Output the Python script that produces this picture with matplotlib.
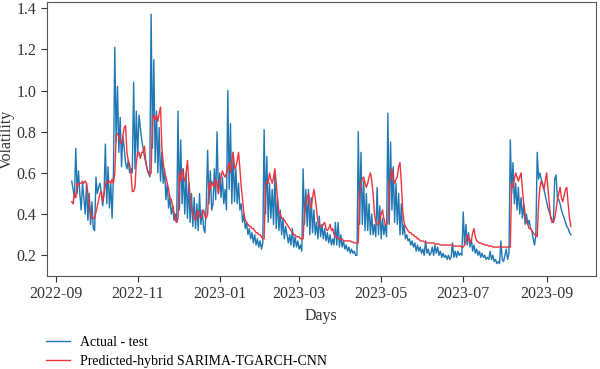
import numpy as np
import pandas as pd
import matplotlib
matplotlib.use("Agg")
import matplotlib.pyplot as plt
import matplotlib.dates as mdates

plt.rcParams['font.family'] = ['Liberation Serif', 'DejaVu Serif']

# daily test period
start_date = "2022-09-13"
end_date = "2023-09-19"

actual = [
    0.56, 0.52, 0.48, 0.72, 0.50, 0.61, 0.50, 0.42, 0.55, 0.48,
    0.40, 0.55, 0.37, 0.50, 0.35, 0.46, 0.33, 0.32, 0.58, 0.50,
    0.53, 0.55, 0.50, 0.44, 0.50, 0.74, 0.45, 0.63, 0.43, 0.55,
    0.38, 0.60, 1.21, 0.75, 1.02, 0.70, 0.87, 0.63, 0.78, 0.72,
    0.65, 0.62, 0.66, 0.60, 0.62, 0.60, 1.04, 0.62, 0.90, 0.68,
    0.88, 0.82, 0.76, 0.72, 0.68, 0.65, 0.62, 0.60, 0.58, 1.37,
    0.72, 1.15, 0.65, 0.90, 0.60, 0.82, 0.56, 0.70, 0.55, 0.62,
    0.47, 0.55, 0.43, 0.48, 0.40, 0.44, 0.37, 0.40, 0.36, 0.90,
    0.42, 0.76, 0.45, 0.62, 0.40, 0.60, 0.38, 0.55, 0.36, 0.50,
    0.34, 0.48, 0.33, 0.45, 0.32, 0.50, 0.35, 0.42, 0.33, 0.31,
    0.45, 0.71, 0.45, 0.61, 0.42, 0.45, 0.62, 0.47, 0.80, 0.50,
    0.60, 0.48, 0.58, 0.45, 0.52, 0.42, 1.00, 0.52, 0.84, 0.45,
    0.70, 0.46, 0.62, 0.45, 0.55, 0.42, 0.45, 0.36, 0.40, 0.33,
    0.36, 0.30, 0.33, 0.28, 0.31, 0.26, 0.30, 0.25, 0.28, 0.24,
    0.27, 0.23, 0.26, 0.81, 0.40, 0.68, 0.36, 0.55, 0.38, 0.52,
    0.35, 0.60, 0.33, 0.48, 0.32, 0.42, 0.30, 0.38, 0.28, 0.34,
    0.30, 0.26, 0.30, 0.25, 0.33, 0.24, 0.29, 0.24, 0.27, 0.23,
    0.25, 0.22, 0.62, 0.35, 0.52, 0.34, 0.52, 0.30, 0.48, 0.31,
    0.42, 0.30, 0.36, 0.28, 0.39, 0.29, 0.35, 0.28, 0.33, 0.27,
    0.31, 0.26, 0.30, 0.25, 0.28, 0.25, 0.36, 0.25, 0.36, 0.24,
    0.30, 0.24, 0.27, 0.23, 0.25, 0.22, 0.24, 0.21, 0.23, 0.21,
    0.22, 0.20, 0.20, 0.80, 0.35, 0.70, 0.35, 0.56, 0.32, 0.50,
    0.32, 0.45, 0.30, 0.40, 0.30, 0.35, 0.29, 0.53, 0.30, 0.44,
    0.28, 0.38, 0.30, 0.35, 0.29, 0.89, 0.35, 0.75, 0.42, 0.63,
    0.36, 0.55, 0.35, 0.50, 0.30, 0.45, 0.30, 0.35, 0.28, 0.30,
    0.27, 0.28, 0.25, 0.27, 0.24, 0.26, 0.22, 0.25, 0.22, 0.24,
    0.21, 0.23, 0.20, 0.27, 0.21, 0.23, 0.20, 0.21, 0.24, 0.20,
    0.25, 0.21, 0.24, 0.20, 0.22, 0.19, 0.21, 0.19, 0.20, 0.18,
    0.20, 0.18, 0.19, 0.26, 0.19, 0.22, 0.19, 0.22, 0.20, 0.21,
    0.20, 0.41, 0.25, 0.35, 0.25, 0.31, 0.24, 0.28, 0.22, 0.25,
    0.21, 0.23, 0.20, 0.22, 0.19, 0.21, 0.19, 0.20, 0.18, 0.19,
    0.18, 0.22, 0.18, 0.20, 0.17, 0.18, 0.16, 0.17, 0.16, 0.27,
    0.18, 0.17, 0.20, 0.23, 0.18, 0.21, 0.76, 0.50, 0.65, 0.45,
    0.55, 0.42, 0.53, 0.40, 0.48, 0.38, 0.45, 0.35, 0.40, 0.35,
    0.37, 0.33, 0.32, 0.28, 0.25, 0.30, 0.70, 0.57, 0.60, 0.57,
    0.55, 0.52, 0.49, 0.46, 0.43, 0.41, 0.39, 0.37, 0.36, 0.57,
    0.59, 0.48, 0.47, 0.45, 0.42, 0.40, 0.38, 0.36, 0.34, 0.33,
    0.31, 0.30,
]

predicted = [
    0.46, 0.45, 0.50, 0.48, 0.55, 0.54, 0.55, 0.55, 0.56, 0.55,
    0.56, 0.55, 0.50, 0.45, 0.40, 0.38, 0.38, 0.38, 0.41, 0.44,
    0.47, 0.50, 0.51, 0.46, 0.50, 0.54, 0.56, 0.55, 0.56, 0.55,
    0.57, 0.55, 0.60, 0.78, 0.79, 0.78, 0.76, 0.74, 0.78, 0.82,
    0.83, 0.70, 0.66, 0.64, 0.60, 0.51, 0.51, 0.53, 0.65, 0.70,
    0.70, 0.67, 0.70, 0.70, 0.73, 0.66, 0.62, 0.60, 0.59, 0.60,
    0.87, 0.88, 0.86, 0.88, 0.85, 0.89, 0.92, 0.72, 0.65, 0.60,
    0.58, 0.55, 0.52, 0.48, 0.47, 0.44, 0.41, 0.37, 0.36, 0.38,
    0.60, 0.56, 0.62, 0.58, 0.56, 0.60, 0.66, 0.56, 0.49, 0.44,
    0.40, 0.38, 0.37, 0.40, 0.42, 0.39, 0.38, 0.40, 0.42, 0.39,
    0.38, 0.40, 0.55, 0.52, 0.56, 0.54, 0.53, 0.57, 0.55, 0.50,
    0.55, 0.58, 0.61, 0.59, 0.58, 0.60, 0.62, 0.65, 0.60, 0.66,
    0.70, 0.62, 0.63, 0.66, 0.70, 0.62, 0.53, 0.47, 0.40, 0.37,
    0.36, 0.35, 0.34, 0.34, 0.33, 0.33, 0.32, 0.31, 0.31, 0.30,
    0.30, 0.29, 0.28, 0.28, 0.53, 0.56, 0.55, 0.60, 0.57, 0.55,
    0.58, 0.62, 0.55, 0.47, 0.41, 0.40, 0.38, 0.38, 0.37, 0.36,
    0.35, 0.34, 0.33, 0.32, 0.31, 0.30, 0.30, 0.29, 0.29, 0.29,
    0.28, 0.28, 0.28, 0.41, 0.45, 0.48, 0.50, 0.45, 0.43, 0.48,
    0.52, 0.48, 0.42, 0.36, 0.35, 0.34, 0.34, 0.35, 0.36, 0.33,
    0.32, 0.33, 0.35, 0.32, 0.33, 0.30, 0.29, 0.29, 0.28, 0.28,
    0.28, 0.28, 0.27, 0.27, 0.27, 0.27, 0.27, 0.27, 0.265, 0.265,
    0.26, 0.26, 0.26, 0.26, 0.50, 0.55, 0.57, 0.58, 0.55, 0.53,
    0.55, 0.58, 0.60, 0.56, 0.50, 0.40, 0.36, 0.35, 0.35, 0.37,
    0.40, 0.42, 0.38, 0.35, 0.35, 0.36, 0.55, 0.58, 0.62, 0.57,
    0.55, 0.57, 0.58, 0.63, 0.65, 0.55, 0.42, 0.36, 0.34, 0.33,
    0.32, 0.31, 0.31, 0.30, 0.30, 0.29, 0.29, 0.28, 0.28, 0.27,
    0.27, 0.27, 0.265, 0.265, 0.26, 0.26, 0.26, 0.26, 0.26, 0.26,
    0.255, 0.255, 0.255, 0.255, 0.25, 0.25, 0.25, 0.25, 0.25, 0.25,
    0.25, 0.25, 0.25, 0.25, 0.245, 0.245, 0.245, 0.245, 0.245, 0.245,
    0.24, 0.24, 0.25, 0.27, 0.30, 0.29, 0.26, 0.27, 0.31, 0.33,
    0.29, 0.27, 0.265, 0.26, 0.26, 0.255, 0.255, 0.25, 0.25, 0.25,
    0.245, 0.245, 0.245, 0.24, 0.24, 0.24, 0.24, 0.24, 0.24, 0.24,
    0.24, 0.24, 0.24, 0.24, 0.24, 0.24, 0.24, 0.55, 0.53, 0.57,
    0.60, 0.58, 0.56, 0.58, 0.60, 0.52, 0.45, 0.40, 0.36, 0.35,
    0.33, 0.33, 0.32, 0.31, 0.30, 0.30, 0.29, 0.45, 0.53, 0.56,
    0.54, 0.52, 0.56, 0.60, 0.52, 0.45, 0.38, 0.36, 0.36, 0.38,
    0.42, 0.47, 0.50, 0.53, 0.48, 0.46, 0.49, 0.52, 0.53, 0.45,
    0.38, 0.34,
]

dates = pd.date_range(start_date, end_date, freq="D")

fig = plt.figure(figsize=(6, 3.69), dpi=100)
ax = fig.add_axes([0.078, 0.252, 0.915, 0.743])

ax.plot(dates, actual, color="#1f77b4", lw=1.0, label="Actual - test")
ax.plot(dates, predicted, color="#f0323c", lw=1.0, label="Predicted-hybrid SARIMA-TGARCH-CNN")

ax.xaxis.set_major_locator(mdates.MonthLocator(bymonth=[1, 3, 5, 7, 9, 11]))
ax.xaxis.set_major_formatter(mdates.DateFormatter("%Y-%m"))
ax.set_yticks([0.2, 0.4, 0.6, 0.8, 1.0, 1.2, 1.4])
ax.tick_params(labelsize=11.5, colors="#333333", length=4)
for s in ax.spines.values():
    s.set_color("#555555")

ax.set_xlabel("Days", fontsize=11.5, color="#333333", labelpad=4)
ax.set_ylabel("Volatility", fontsize=11.5, color="#333333")
ax.yaxis.set_label_coords(-0.058, 0.5)

fig.legend(loc="upper left", bbox_to_anchor=(0.077, 0.09), frameon=False,
           fontsize=10, handlelength=1.7, handletextpad=0.7, labelspacing=0.45,
           borderpad=0, borderaxespad=0)

fig.savefig("out.png", dpi=100)
